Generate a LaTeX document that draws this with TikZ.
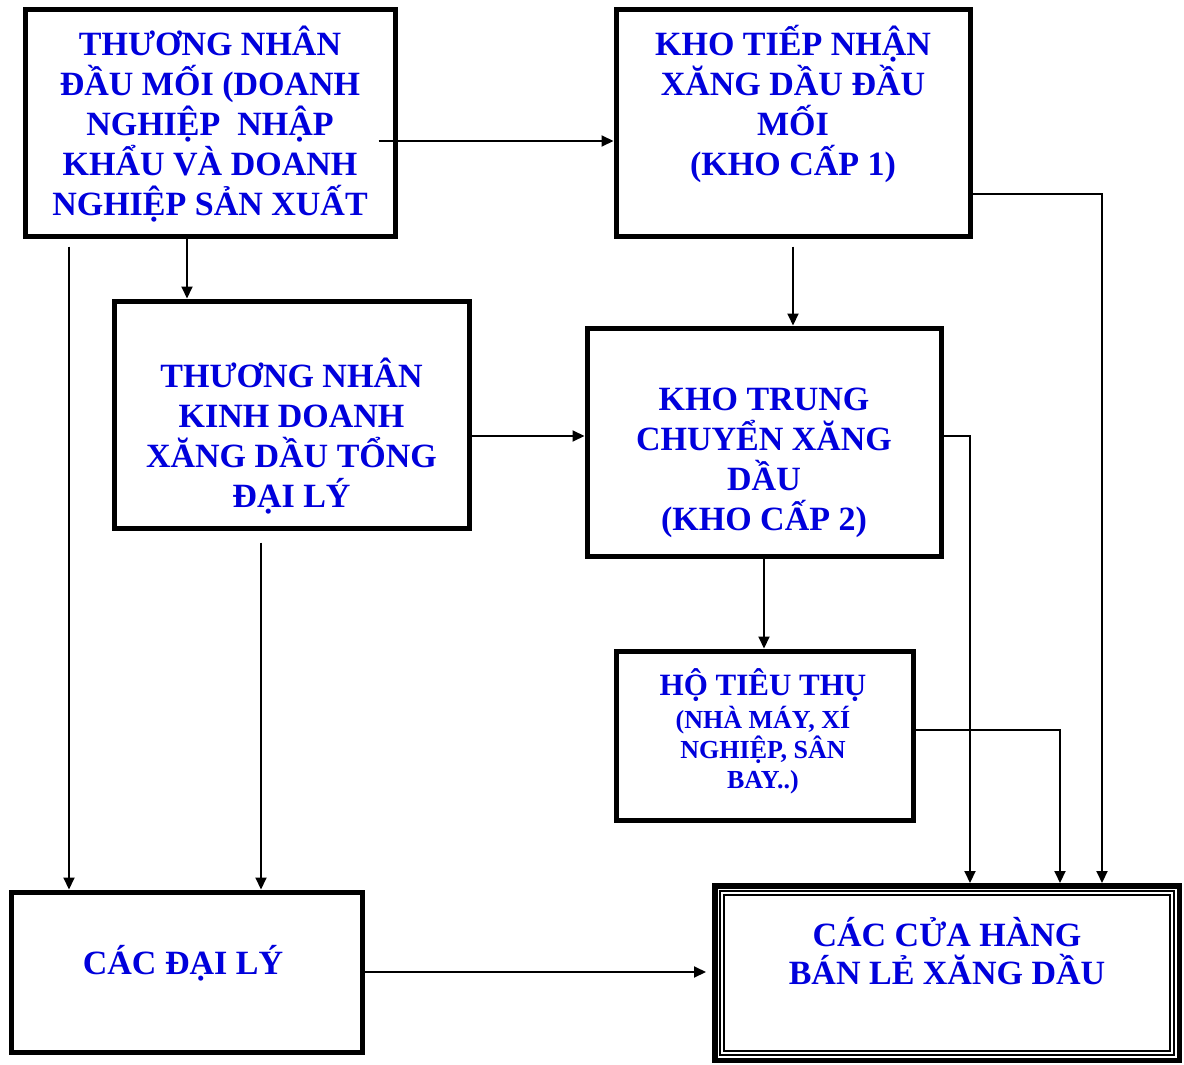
\documentclass[tikz,border=0pt]{standalone}
\usepackage{fontspec}
\setmainfont{Liberation Serif}
\usetikzlibrary{arrows.meta}
\definecolor{textblue}{RGB}{0,0,220}
\tikzstyle{box} = [rectangle, draw=black, line width=2.5pt, fill=white, inner sep=0pt]
\tikzstyle{retail} = [rectangle, draw=black, line width=2.75pt, fill=white, inner sep=0pt]
\tikzstyle{caption} = [text=textblue, font=\bfseries\fontsize{17}{20}\selectfont, align=center, inner sep=0pt]
\tikzstyle{arrow} = [line width=1pt, -{Triangle[length=6pt,width=5.5pt]}]

\begin{document}
\begin{tikzpicture}[x=0.5pt, y=-0.5pt]
\useasboundingbox (0,0) rectangle (1184,1065);

% vertical lanes
\coordinate (laneA) at (69,0);
\coordinate (laneB) at (187,0);
\coordinate (laneC) at (261,0);
\coordinate (laneF) at (970,0);
\coordinate (laneG) at (1060,0);
\coordinate (laneH) at (1102,0);

% boxes
\node (tndm) [box, minimum width=185pt, minimum height=113pt] at (210,123) {};
\node (khoc1) [box, minimum width=177pt, minimum height=113pt] at (793,123) {};
\node (tnkd) [box, minimum width=177.5pt, minimum height=113.5pt] at (291.5,414.5) {};
\node (khoc2) [box, minimum width=177pt, minimum height=114pt] at (764,442) {};
\node (hotieuthu) [box, minimum width=148.5pt, minimum height=84.5pt] at (764.5,735.5) {};
\node (daily) [box, minimum width=175.5pt, minimum height=80pt] at (186.5,972) {};
\node (cuahang) [retail, minimum width=232.25pt, minimum height=87.25pt] at (947,973) {};
\draw [line width=0.8pt, double, double distance=1pt] ([shift={(5pt,-5pt)}]cuahang.north west) rectangle ([shift={(-5pt,5pt)}]cuahang.south east);

% texts
\node (tndm-txt) [caption] at (210,124) {THƯƠNG NHÂN\\ĐẦU MỐI (DOANH\\NGHIỆP~ NHẬP\\KHẨU VÀ DOANH\\NGHIỆP SẢN XUẤT};
\node (khoc1-txt) [caption] at (793,104) {KHO TIẾP NHẬN\\XĂNG DẦU ĐẦU\\MỐI\\(KHO CẤP 1)};
\node (tnkd-txt) [caption] at (291.5,436) {THƯƠNG NHÂN\\KINH DOANH\\XĂNG DẦU TỔNG\\ĐẠI LÝ};
\node (khoc2-txt) [caption] at (764,463) {KHO TRUNG\\CHUYỂN XĂNG\\DẦU\\(KHO CẤP 2)};
\node (hotieuthu-txt) [caption, font=\bfseries\fontsize{13}{15}\selectfont] at (763,731) {{\fontsize{15.5}{17}\selectfont HỘ TIÊU THỤ}\\[1.5pt](NHÀ MÁY, XÍ\\NGHIỆP, SÂN\\BAY..)};
\node (daily-txt) [caption] at (183,963) {CÁC ĐẠI LÝ};
\node (cuahang-txt) [caption, font=\bfseries\fontsize{17}{19}\selectfont] at (947,951) {CÁC CỬA HÀNG\\BÁN LẺ XĂNG DẦU};

% arrows
\draw [arrow] ([xshift=-9.5pt,yshift=-9pt]tndm.east) -- ([yshift=-9pt]khoc1.west);
\draw [arrow] (tndm.south -| laneB) -- (tnkd.north -| laneB);
\draw [arrow, shorten <=4pt] (tndm.south -| laneA) -- (daily.north -| laneA);
\draw [arrow, shorten <=6pt] (tnkd.south -| laneC) -- (daily.north -| laneC);
\draw [arrow] ([yshift=-10.75pt]tnkd.east) -- ([yshift=3pt]khoc2.west);
\draw [arrow, shorten <=4pt] (khoc1.south) -- (khoc1.south |- khoc2.north);
\draw [arrow] (khoc2.south) -- (khoc2.south |- hotieuthu.north);
\draw [arrow] ([yshift=-35.5pt]khoc1.east) -| (cuahang.north -| laneH);
\draw [arrow] ([yshift=3pt]khoc2.east) -| (cuahang.north -| laneF);
\draw [arrow] ([yshift=2.75pt]hotieuthu.east) -| (cuahang.north -| laneG);
\draw [arrow, shorten >=3pt] (daily.east) -- (daily.east -| cuahang.west);

\end{tikzpicture}
\end{document}
